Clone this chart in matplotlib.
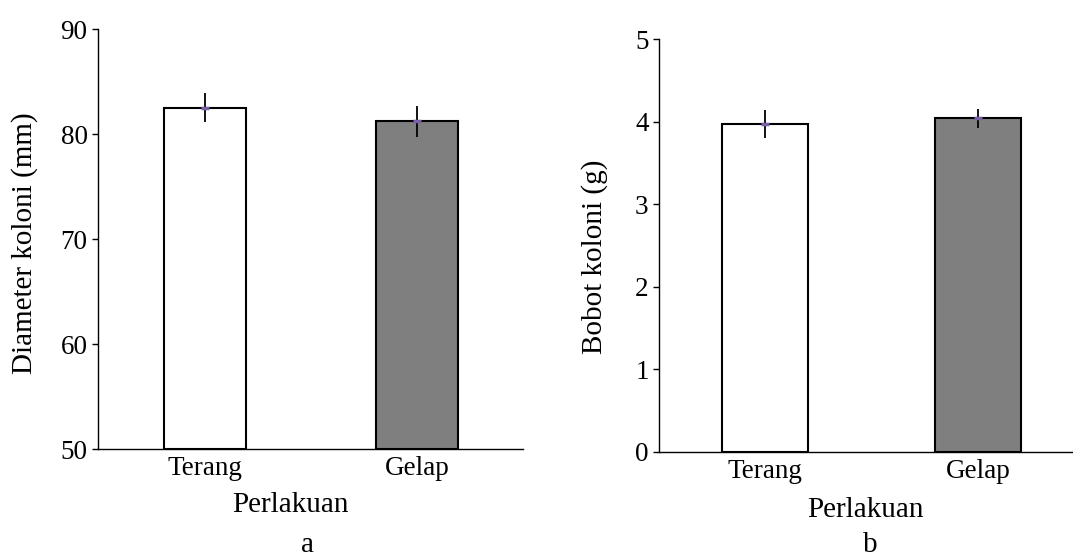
import matplotlib
matplotlib.use("Agg")
import matplotlib.pyplot as plt

plt.rcParams['font.family'] = ['Liberation Serif', 'DejaVu Serif']

categories = ["Terang", "Gelap"]
diameter = [82.5, 81.2]
diameter_err = [1.4, 1.45]
bobot = [3.97, 4.04]
bobot_err = [0.165, 0.115]
bar_colors = ["white", "#7f7f7f"]

fig = plt.figure(figsize=(10.73, 5.58), dpi=100)

ax1 = fig.add_axes([0.0913, 0.1953, 0.4874 - 0.0913, 0.948 - 0.1953])
ax2 = fig.add_axes([0.6142, 0.19, 1.0 - 0.6142, 0.930 - 0.19])

def draw(ax, vals, errs, ylim, yticks, xlim, width):
    x = list(range(len(categories)))
    ax.bar(x, [v - ylim[0] for v in vals], bottom=ylim[0], width=width,
           color=bar_colors, edgecolor="black", linewidth=1.5, zorder=2)
    ax.errorbar(x, vals, yerr=errs, fmt='none', ecolor='black',
                elinewidth=1.3, capsize=0, zorder=3)
    ax.plot(x, vals, linestyle='none', marker='_', markersize=6,
            markeredgewidth=2.5, color='#7b5ea7', zorder=4)
    ax.set_ylim(*ylim)
    ax.set_yticks(yticks)
    ax.set_xlim(*xlim)
    ax.set_xticks(x)
    ax.set_xticklabels(categories)
    for s in ['top', 'right']:
        ax.spines[s].set_visible(False)
    for s in ['left', 'bottom']:
        ax.spines[s].set_linewidth(1.0)
    ax.tick_params(axis='y', direction='out', length=4.5, width=1.0,
                   labelsize=19.5, pad=3)
    ax.tick_params(axis='x', length=0, labelsize=19.5, pad=5)

draw(ax1, diameter, diameter_err, (50, 90), [50, 60, 70, 80, 90], (-0.505, 1.5), 0.387)
draw(ax2, bobot, bobot_err, (0, 5), [0, 1, 2, 3, 4, 5], (-0.498, 1.446), 0.40)

fig.text(25 / 1073, 1 - 243 / 558, "Diameter koloni (mm)", rotation=90,
         ha='center', va='center', fontsize=21)
fig.text(595 / 1073, 1 - 257 / 558, "Bobot koloni (g)", rotation=90,
         ha='center', va='center', fontsize=21)
fig.text(290 / 1073, 1 - 505 / 558, "Perlakuan", ha='center', va='center', fontsize=21)
fig.text(865 / 1073, 1 - 510 / 558, "Perlakuan", ha='center', va='center', fontsize=21)
fig.text(307 / 1073, 1 - 545 / 558, "a", ha='center', va='center', fontsize=21)
fig.text(870 / 1073, 1 - 545 / 558, "b", ha='center', va='center', fontsize=21)

fig.savefig("out.png", dpi=100)
